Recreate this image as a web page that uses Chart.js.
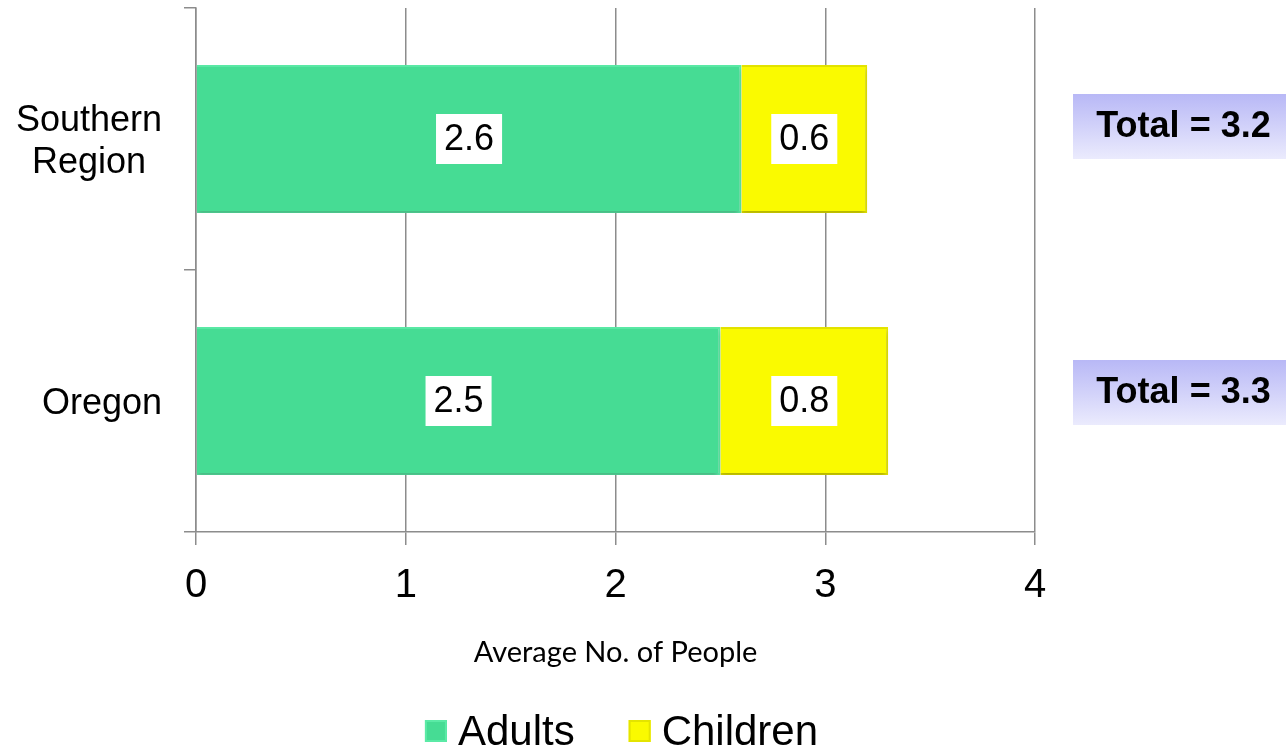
<!DOCTYPE html>
<html>
<head>
<meta charset="utf-8">
<script src="https://cdn.jsdelivr.net/npm/chart.js@4"></script>
<style>
  html, body { margin: 0; padding: 0; background: #fff; }
  #wrap { width: 1286px; height: 748px; }
</style>
</head>
<body>
<div id="wrap"><canvas id="householdChart"></canvas></div>
<script>
// household size by area
const regions = [['Southern', 'Region'], ['Oregon']];
const adults = [2.6, 2.5];
const children = [0.6, 0.8];
const xTicks = [0, 1, 2, 3, 4];

const FONT = '"Liberation Sans", Arial, sans-serif';

// category names drawn by hand so the second line stays centred under the first
const categoryLabels = {
  id: 'categoryLabels',
  afterDraw(chart) {
    const { ctx } = chart;
    const y = chart.scales.y;
    ctx.save();
    ctx.font = '36px ' + FONT;
    ctx.fillStyle = '#000';
    ctx.textBaseline = 'middle';
    ctx.textAlign = 'center';
    regions.forEach((lines, i) => {
      const cy = y.getPixelForValue(i) + 3;
      const widest = Math.max(...lines.map(l => ctx.measureText(l).width));
      const cx = y.right - 34 - widest / 2;
      lines.forEach((line, j) => {
        ctx.fillText(line, cx, cy + (j - (lines.length - 1) / 2) * 42);
      });
    });
    ctx.restore();
  }
};

// white value boxes in the middle of each segment
const valueBoxes = {
  id: 'valueBoxes',
  afterDatasetsDraw(chart) {
    const { ctx } = chart;
    ctx.save();
    ctx.font = '36px ' + FONT;
    ctx.textAlign = 'center';
    ctx.textBaseline = 'middle';
    chart.data.datasets.forEach((ds, di) => {
      chart.getDatasetMeta(di).data.forEach((bar, i) => {
        const { x, base, y } = bar.getProps(['x', 'base', 'y'], true);
        const cx = (x + base) / 2;
        const text = ds.data[i].toFixed(1);
        const w = ctx.measureText(text).width + 16;
        ctx.fillStyle = '#fff';
        ctx.fillRect(cx - w / 2, y - 25, w, 50);
        ctx.fillStyle = '#000';
        ctx.fillText(text, cx, y + 1);
      });
    });
    ctx.restore();
  }
};

// "Total = x" callouts to the right of the plot
const totals = {
  id: 'totals',
  afterDraw(chart) {
    const { ctx, chartArea } = chart;
    const y = chart.scales.y;
    ctx.save();
    regions.forEach((_, i) => {
      const cy = y.getPixelForValue(i);
      const left = chartArea.right + 38;
      const top = cy - 45 + i * 4;
      const w = 213, h = 65;
      const g = ctx.createLinearGradient(0, top, 0, top + h);
      g.addColorStop(0, '#b8b8f6');
      g.addColorStop(1, '#ebebfd');
      ctx.fillStyle = g;
      ctx.fillRect(left, top, w, h);
      const total = (adults[i] + children[i]).toFixed(1);
      ctx.font = 'bold 36px ' + FONT;
      ctx.fillStyle = '#000';
      ctx.textAlign = 'center';
      ctx.textBaseline = 'middle';
      ctx.fillText('Total = ' + total, left + w / 2 + 4, top + h / 2 + 1);
    });
    ctx.restore();
  }
};

// legend row under the axis title, tighter than the built-in one
const bottomLegend = {
  id: 'bottomLegend',
  afterDraw(chart) {
    const { ctx, chartArea } = chart;
    const box = 22, gap = 11, itemGap = 54;
    ctx.save();
    ctx.font = '42px ' + FONT;
    ctx.textBaseline = 'alphabetic';
    ctx.textAlign = 'left';
    const items = chart.data.datasets.map(ds => ({
      text: ds.label, fill: ds.backgroundColor, stroke: ds.borderColor,
      w: box + gap + ctx.measureText(ds.label).width
    }));
    const total = items.reduce((s, it) => s + it.w, 0) + itemGap * (items.length - 1);
    let x = (chartArea.left + chartArea.right) / 2 + 6 - total / 2;
    const base = chartArea.bottom + 213;
    items.forEach(it => {
      ctx.fillStyle = it.fill;
      ctx.fillRect(x, base - 25, box, box);
      ctx.strokeStyle = it.stroke;
      ctx.lineWidth = 2;
      ctx.strokeRect(x + 1, base - 24, box - 2, box - 2);
      ctx.fillStyle = '#000';
      ctx.fillText(it.text, x + box + gap, base);
      x += it.w + itemGap;
    });
    ctx.restore();
  }
};

// soft drop shadow under the bars
const barShadow = {
  id: 'barShadow',
  beforeDatasetsDraw(chart) {
    const { ctx } = chart;
    ctx.save();
    ctx.shadowColor = 'rgba(0,0,0,0.25)';
    ctx.shadowBlur = 5;
    ctx.shadowOffsetY = 3;
  },
  afterDatasetsDraw(chart) {
    chart.ctx.restore();
  }
};

const ctx = document.getElementById('householdChart').getContext('2d');
new Chart(ctx, {
  type: 'bar',
  data: {
    labels: regions,
    datasets: [{
      label: 'Adults',
      data: adults,
      backgroundColor: '#46dc94',
      borderColor: '#5beaa6',
      borderWidth: 2,
      categoryPercentage: 1,
      barPercentage: 0.565
    }, {
      label: 'Children',
      data: children,
      backgroundColor: '#fafa00',
      borderColor: '#e4e400',
      borderWidth: 2,
      categoryPercentage: 1,
      barPercentage: 0.565
    }]
  },
  plugins: [barShadow, valueBoxes, categoryLabels, totals, bottomLegend],
  options: {
    indexAxis: 'y',
    responsive: true,
    maintainAspectRatio: false,
    animation: false,
    layout: { padding: { top: 8, right: 251, left: 0, bottom: 78 } },
    plugins: {
      legend: { display: false },
      tooltip: { enabled: false }
    },
    scales: {
      x: {
        stacked: true,
        min: xTicks[0],
        max: xTicks[xTicks.length - 1],
        ticks: {
          stepSize: 1,
          color: '#000',
          font: { family: FONT, size: 40 },
          padding: 17
        },
        grid: { color: '#8c8c8c', lineWidth: 1.5, tickLength: 13 },
        border: { color: '#8c8c8c', width: 1.5 },
        title: {
          display: true,
          text: 'Average No. of People',
          color: '#000',
          font: { family: 'Lato, "Open Sans", sans-serif', size: 29 },
          padding: { top: 10, bottom: 0 }
        },
        afterFit(scale) { scale.height = 138; }
      },
      y: {
        stacked: true,
        ticks: { display: false },
        grid: { color: '#8c8c8c', lineWidth: 1.5, tickLength: 12, drawOnChartArea: false },
        border: { color: '#8c8c8c', width: 1.5 },
        afterFit(scale) { scale.width = 196; }
      }
    }
  }
});
</script>
</body>
</html>
